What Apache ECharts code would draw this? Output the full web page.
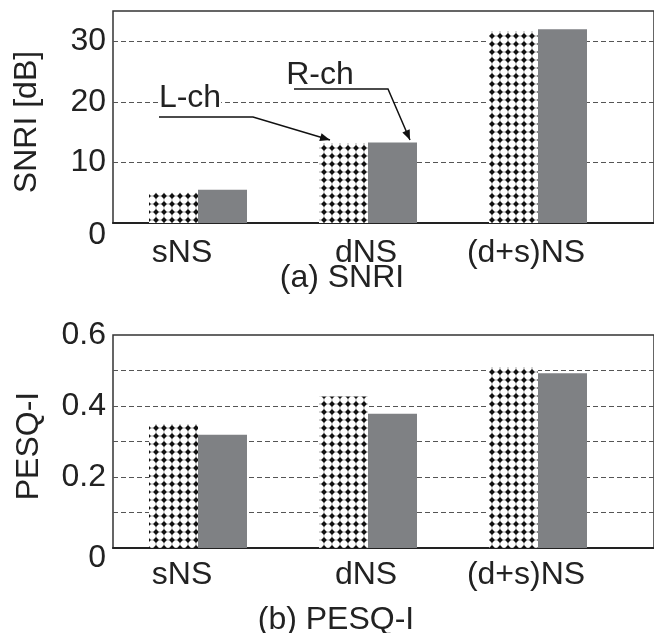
<!DOCTYPE html>
<html>
<head>
<meta charset="utf-8">
<script src="https://cdn.jsdelivr.net/npm/echarts@6/dist/echarts.min.js"></script>
<style>
html,body{margin:0;padding:0;background:#fff;}
#main{width:654px;height:633px;}
</style>
</head>
<body>
<div id="main"></div>
<script>
// ---- data ----
const categories = ['sNS', 'dNS', '(d+s)NS'];
const snriL = [5.0, 13.2, 31.7];
const snriR = [5.5, 13.3, 32.0];
const pesqL = [0.349, 0.427, 0.51];
const pesqR = [0.319, 0.378, 0.492];
const snriTicks = [0, 10, 20, 30];
const pesqTicks = [0, 0.2, 0.4, 0.6];

// ---- styling ----
const FONT = "'Liberation Sans', Arial, sans-serif";
const TXT = '#222';
const GRAY = '#7f8184';
const labelShift = [-16, -2, -12];

function makePattern() {
  const c = document.createElement('canvas');
  c.width = 8; c.height = 8;
  const g = c.getContext('2d');
  g.fillStyle = '#fff';
  g.fillRect(0, 0, 8, 8);
  g.strokeStyle = 'rgba(60,60,60,0.55)';
  g.lineWidth = 0.8;
  g.beginPath();
  g.moveTo(0, 4); g.lineTo(8, 4);
  g.moveTo(4, 0); g.lineTo(4, 8);
  g.stroke();
  g.fillStyle = '#111';
  g.beginPath();
  g.moveTo(4, 1.1); g.lineTo(6.9, 4); g.lineTo(4, 6.9); g.lineTo(1.1, 4);
  g.closePath();
  g.fill();
  return c;
}
const pattern = { image: makePattern(), repeat: 'repeat' };

const catData = categories.map((c, i) => ({
  value: c,
  textStyle: { padding: labelShift[i] < 0 ? [0, -2 * labelShift[i], 0, 0] : [0, 0, 0, 2 * labelShift[i]] }
}));

const chart = echarts.init(document.getElementById('main'), null, { renderer: 'canvas', width: 654, height: 633 });

const frameGrid = (top, h) => ({ left: 113, top: top, right: -30, height: h, show: true, borderColor: '#333', borderWidth: 1.5, backgroundColor: 'transparent' });
const barGrid = (top, h) => ({ left: 113, top: top, width: 510, height: h });

function yAxisFrame(gi, max, interval, ticks, zeroPad, nLines) {
  const cols = [];
  for (let i = 0; i < nLines; i++) cols.push(i === nLines - 1 ? 'rgba(0,0,0,0)' : '#555');
  return {
    type: 'value', gridIndex: gi, min: 0, max: max, interval: interval,
    axisLine: { show: false }, axisTick: { show: false },
    splitLine: { show: true, lineStyle: { type: [5, 3], color: cols, width: 1.2 } },
    axisLabel: {
      show: true, fontSize: 32, color: TXT, fontFamily: FONT, margin: 7,
      formatter: function (v) {
        const hit = ticks.some(t => Math.abs(t - v) < 1e-9);
        if (!hit) return '';
        if (Math.abs(v) < 1e-9) return '{z|0}';
        return String(Math.round(v * 10) / 10);
      },
      rich: { z: { fontSize: 32, color: TXT, fontFamily: FONT, padding: [zeroPad, 0, 0, 0] } }
    }
  };
}
function yAxisHidden(gi, max) {
  return { type: 'value', gridIndex: gi, min: 0, max: max, show: false, splitLine: { show: false } };
}
function xAxisFrame(gi) {
  return { type: 'value', gridIndex: gi, min: 0, max: 1, axisLine: { show: true, onZero: false, lineStyle: { color: '#222', width: 2 } },
    axisTick: { show: false }, axisLabel: { show: false }, splitLine: { show: false } };
}
function xAxisCat(gi, margin) {
  return { type: 'category', gridIndex: gi, data: catData, axisLine: { show: false }, axisTick: { show: false },
    axisLabel: { fontSize: 32, color: TXT, fontFamily: FONT, margin: margin } };
}

const option = {
  backgroundColor: '#fff',
  animation: false,
  textStyle: { fontFamily: FONT },
  title: [
    { text: '(a) SNRI', left: 342, top: 262, textAlign: 'center', padding: 0,
      textStyle: { fontSize: 32, fontWeight: 'normal', color: TXT, fontFamily: FONT } },
    { text: '(b) PESQ-I', left: 336, top: 604, textAlign: 'center', padding: 0,
      textStyle: { fontSize: 32, fontWeight: 'normal', color: TXT, fontFamily: FONT } }
  ],
  grid: [frameGrid(11, 212), barGrid(11, 212), frameGrid(335, 213), barGrid(335, 213)],
  xAxis: [xAxisFrame(0), xAxisCat(1, 14), xAxisFrame(2), xAxisCat(3, 11)],
  yAxis: [
    yAxisFrame(0, 35, 10, snriTicks, 24, 5), yAxisHidden(1, 35),
    yAxisFrame(2, 0.6, 0.1, pesqTicks, 20, 7), yAxisHidden(3, 0.6)
  ],
  series: [
    { name: 'L-ch', type: 'bar', xAxisIndex: 1, yAxisIndex: 1, data: snriL, barWidth: 49, barGap: '0%', itemStyle: { color: pattern }, z: 1 },
    { name: 'R-ch', type: 'bar', xAxisIndex: 1, yAxisIndex: 1, data: snriR, barWidth: 49, barGap: '0%', itemStyle: { color: GRAY }, z: 1 },
    { name: 'L-ch', type: 'bar', xAxisIndex: 3, yAxisIndex: 3, data: pesqL, barWidth: 49, barGap: '0%', itemStyle: { color: pattern }, z: 1 },
    { name: 'R-ch', type: 'bar', xAxisIndex: 3, yAxisIndex: 3, data: pesqR, barWidth: 49, barGap: '0%', itemStyle: { color: GRAY }, z: 1 }
  ],
  graphic: []
};
chart.setOption(option);

// ---- annotations (axis names and callouts) ----
function arrowHead(tip, from, len, half) {
  const dx = tip[0] - from[0], dy = tip[1] - from[1];
  const d = Math.sqrt(dx * dx + dy * dy);
  const ux = dx / d, uy = dy / d;
  const bx = tip[0] - ux * len, by = tip[1] - uy * len;
  return { type: 'polygon', shape: { points: [tip, [bx - uy * half, by + ux * half], [bx + uy * half, by - ux * half]] },
    style: { fill: '#111' }, z: 20 };
}
const lPts = [[159, 117], [253, 117], [330, 140]];
const rPts = [[294, 89], [388, 89], [410, 140]];
const g = [
  { type: 'text', x: 27, y: 122, rotation: Math.PI / 2, z: 20,
    style: { text: 'SNRI [dB]', font: '32px ' + FONT, fill: TXT, align: 'center', verticalAlign: 'middle' } },
  { type: 'text', x: 29, y: 446, rotation: Math.PI / 2, z: 20,
    style: { text: 'PESQ-I', font: '32px ' + FONT, fill: TXT, align: 'center', verticalAlign: 'middle' } },
  { type: 'text', x: 190, y: 98, z: 20,
    style: { text: 'L-ch', font: '32px ' + FONT, fill: TXT, backgroundColor: '#fff', align: 'center', verticalAlign: 'middle' } },
  { type: 'text', x: 320, y: 75, z: 20,
    style: { text: 'R-ch', font: '32px ' + FONT, fill: TXT, align: 'center', verticalAlign: 'middle' } },
  { type: 'polyline', shape: { points: lPts }, style: { stroke: '#111', lineWidth: 1.5, fill: null }, z: 20 },
  { type: 'polyline', shape: { points: rPts }, style: { stroke: '#111', lineWidth: 1.5, fill: null }, z: 20 },
  arrowHead(lPts[2], lPts[1], 10, 4),
  arrowHead(rPts[2], rPts[1], 10, 4)
];
chart.setOption({ graphic: g });
</script>
</body>
</html>
